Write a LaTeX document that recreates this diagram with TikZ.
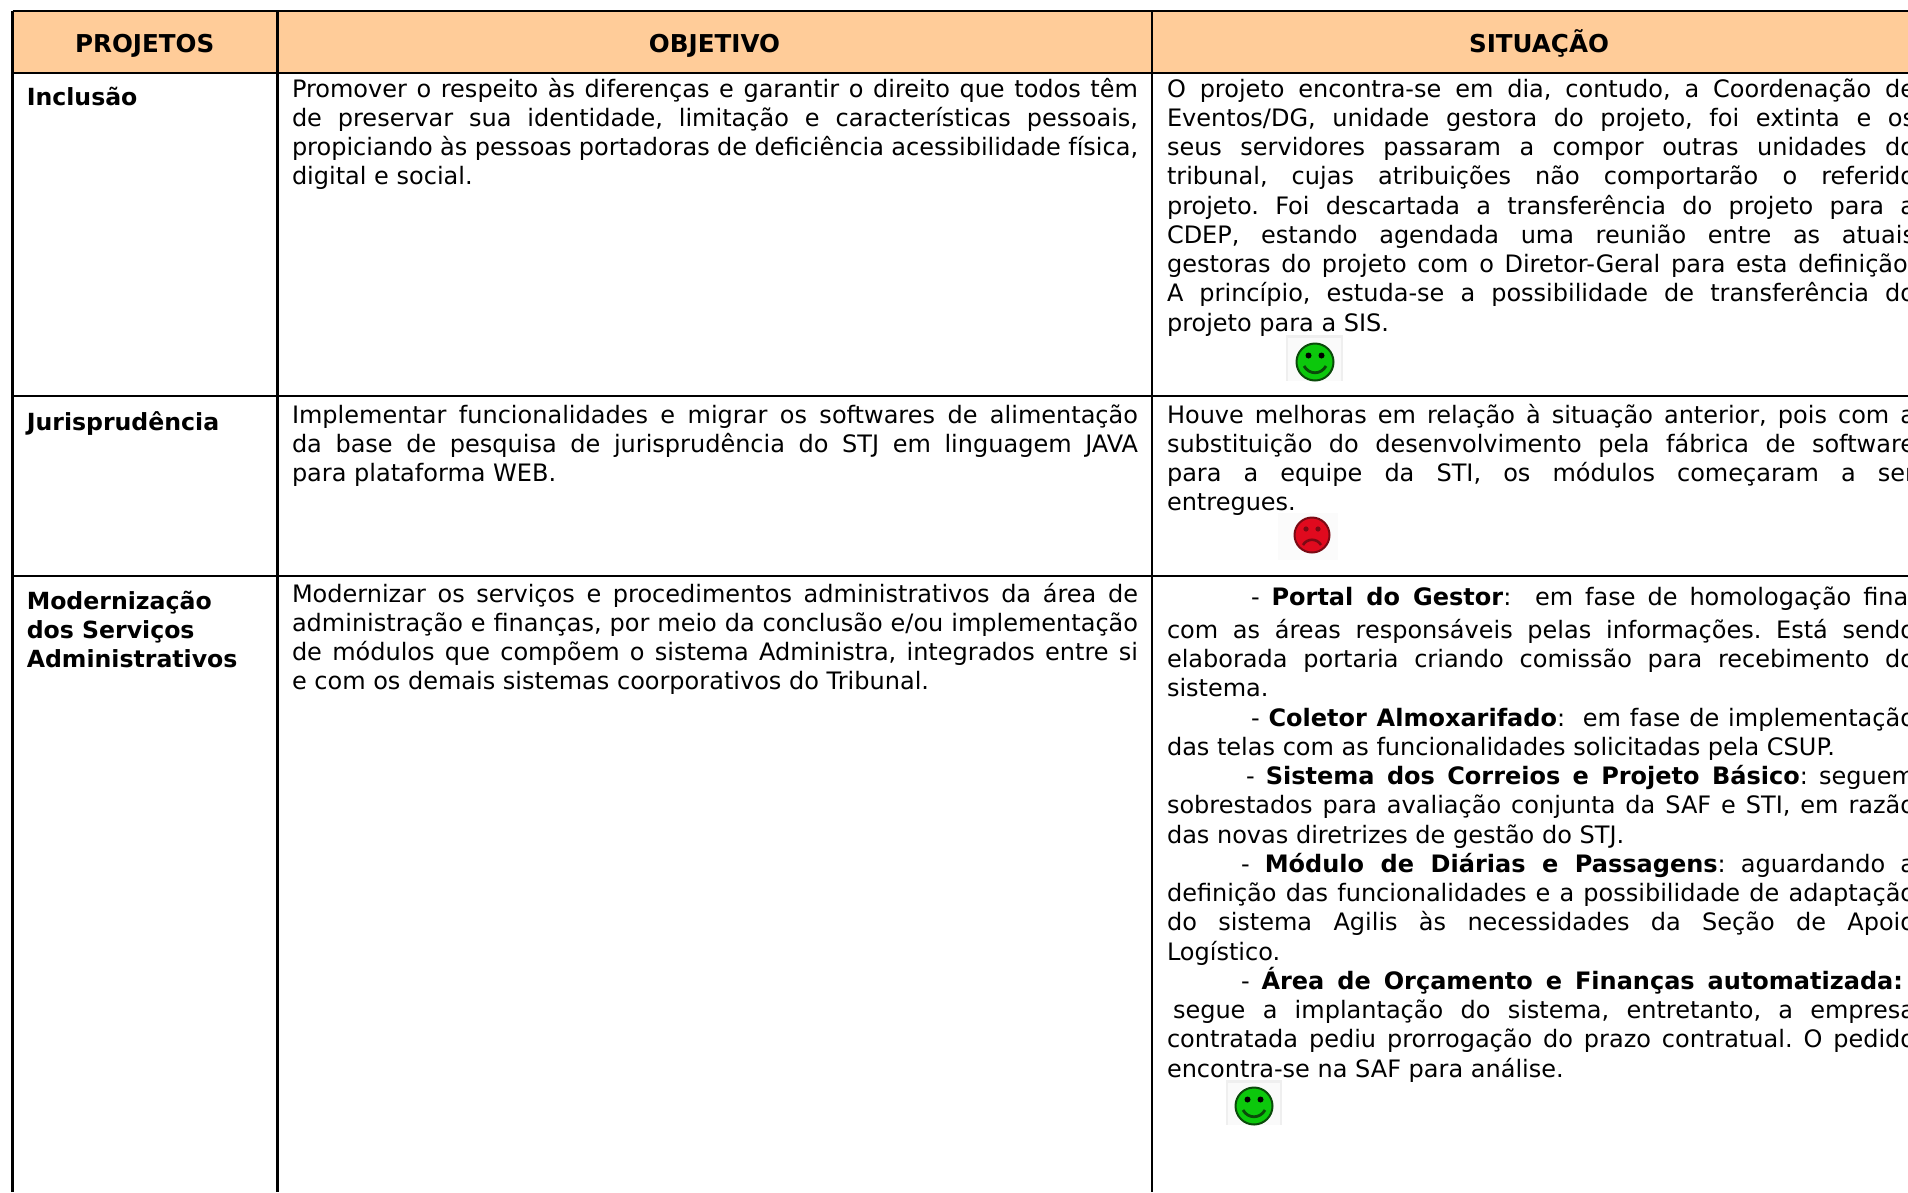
\documentclass[tikz,border=0pt]{standalone}
\usepackage{fontspec}
\setmainfont{DejaVu Sans}
\definecolor{headfill}{HTML}{FFCC99}
\definecolor{facegreen}{HTML}{0CC80C}
\definecolor{facegreenline}{HTML}{0A4A0A}
\definecolor{facered}{HTML}{E00A1E}
\definecolor{faceredline}{HTML}{7A0A14}
\definecolor{iconbg}{HTML}{EFEFEF}
\definecolor{iconbgin}{HTML}{FAFAFA}
\definecolor{iconbgred}{HTML}{FBFBFB}
\newcounter{ln}
\frenchspacing
\tikzset{
  textline/.style={anchor=base west,inner sep=0pt,outer sep=0pt,font=\fontsize{24}{29}\selectfont\frenchspacing,text=black},
  boldline/.style={anchor=base west,inner sep=0pt,outer sep=0pt,font=\fontsize{23.6}{29}\selectfont\bfseries,text=black},
  headtext/.style={anchor=base,inner sep=0pt,outer sep=0pt,font=\fontsize{24.6}{29}\selectfont\bfseries,text=black},
  rule/.style={line width=2.4pt,draw=black},
  facenode/.style={circle,inner sep=0pt,outer sep=0pt,minimum size=#1,line width=2pt}
}
% justified line: x, right edge, y, text
\newcommand{\JL}[4]{\stepcounter{ln}\pgfmathsetmacro{\jlw}{#2-#1}%
  \node[textline] (L\arabic{ln}) at (#1,#3) {\makebox[\jlw pt][s]{#4}};}
% natural line: x, y, text
\newcommand{\NL}[3]{\stepcounter{ln}\node[textline] (L\arabic{ln}) at (#1,#2) {#3};}
% bold first-column line: x, y, text
\newcommand{\BL}[3]{\stepcounter{ln}\node[boldline] (L\arabic{ln}) at (#1,#2) {#3};}
% happy face: name, box x0,y0,x1,y1, centre x,y
\newcommand{\happyface}[7]{%
  \fill[iconbg] (#2,#3) rectangle (#4,#5);
  \fill[iconbgin] (#2+2,#3+3) rectangle (#4-2,#5);
  \begin{scope}
  \clip (#2,#3) rectangle (#4,#5);
  \node[facenode=37pt,fill=facegreen,draw=facegreenline] (#1) at (#6,#7) {};
  \fill[black] (#6-6.5,#7-6.5) circle (3);
  \fill[black] (#6+6.5,#7-6.5) circle (3);
  \draw[facegreenline,line width=2.8pt] (#6-11,#7+4) .. controls (#6-6,#7+13) and (#6+6,#7+13) .. (#6+11,#7+4);
  \end{scope}}
\newcommand{\sadface}[7]{%
  \fill[iconbgred] (#2,#3) rectangle (#4,#5);
  \node[facenode=35pt,fill=facered,draw=faceredline] (#1) at (#6,#7) {};
  \fill[faceredline] (#6-6,#7-6) circle (2.6);
  \fill[faceredline] (#6+6,#7-6) circle (2.6);
  \draw[faceredline,line width=2.6pt] (#6-9,#7+10) .. controls (#6-5,#7+3) and (#6+5,#7+3) .. (#6+9,#7+10);}
\begin{document}
\begin{tikzpicture}[x=1pt,y=-1pt]
\useasboundingbox (0,0) rectangle (1908,1192);
\clip (0,0) rectangle (1908,1192);
\fill[white] (0,0) rectangle (1908,1192);
% table frame
\coordinate (tl) at (12.5,11);
\coordinate (tr) at (1908,11);
\coordinate (hl) at (12.5,73);
\coordinate (hr) at (1908,73);
\coordinate (r1l) at (12.5,396);
\coordinate (r1r) at (1908,396);
\coordinate (r2l) at (12.5,576);
\coordinate (r2r) at (1908,576);
\coordinate (bl) at (12.5,1192);
\coordinate (c1t) at (277.5,11);
\coordinate (c1b) at (277.5,1192);
\coordinate (c2t) at (1152,11);
\coordinate (c2b) at (1152,1192);
\fill[headfill] (tl) rectangle (hr);
\draw[rule] (tl) -- (tr);
\draw[rule] (hl) -- (hr);
\draw[rule] (r1l) -- (r1r);
\draw[rule] (r2l) -- (r2r);
\draw[rule] (tl) -- (bl);
\draw[rule] (c1t) -- (c1b);
\draw[rule] (c2t) -- (c2b);
\begin{scope}[yshift=-2pt]
% header
\node[headtext] (h1) at (144.7,50) {PROJETOS};
\node[headtext] (h2) at (714.5,50) {OBJETIVO};
\node[headtext] (h3) at (1539,50) {SITUAÇÃO};
% first column
\BL{26.8}{103.4}{Inclusão}
\BL{26.8}{428}{Jurisprudência}
\BL{26.8}{607}{Modernização}
\BL{26.8}{636.3}{dos Serviços}
\BL{26.8}{665.5}{Administrativos}
% second column
\JL{292}{1138}{95}{Promover o respeito às diferenças e garantir o direito que todos têm}
\JL{292}{1138}{124.25}{de preservar sua identidade, limitação e características pessoais,}
\JL{292}{1138}{153.5}{propiciando às pessoas portadoras de deficiência acessibilidade física,}
\NL{292}{182.75}{digital e social.}
\JL{292}{1138}{421}{Implementar funcionalidades e migrar os softwares de alimentação}
\JL{292}{1138}{450.25}{da base de pesquisa de jurisprudência do STJ em linguagem JAVA}
\NL{292}{479.5}{para plataforma WEB.}
\JL{292}{1138}{600}{Modernizar os serviços e procedimentos administrativos da área de}
\JL{292}{1138}{629.25}{administração e finanças, por meio da conclusão e/ou implementação}
\JL{292}{1138}{658.5}{de módulos que compõem o sistema Administra, integrados entre si}
\NL{292}{687.75}{e com os demais sistemas coorporativos do Tribunal.}
% third column, row 1
\JL{1167}{1915}{95}{O projeto encontra-se em dia, contudo, a Coordenação de}
\JL{1167}{1915}{124.25}{Eventos/DG, unidade gestora do projeto, foi extinta e os}
\JL{1167}{1915}{153.5}{seus servidores passaram a compor outras unidades do}
\JL{1167}{1915}{182.75}{tribunal, cujas atribuições não comportarão o referido}
\JL{1167}{1915}{212}{projeto. Foi descartada a transferência do projeto para a}
\JL{1167}{1915}{241.25}{CDEP, estando agendada uma reunião entre as atuais}
\JL{1167}{1915}{270.5}{gestoras do projeto com o Diretor-Geral para esta definição.}
\JL{1167}{1915}{299.75}{A princípio, estuda-se a possibilidade de transferência do}
\NL{1167}{329}{projeto para a SIS.}
% third column, row 2
\JL{1167}{1915}{421}{Houve melhoras em relação à situação anterior, pois com a}
\JL{1167}{1915}{450.25}{substituição do desenvolvimento pela fábrica de software}
\JL{1167}{1915}{479.5}{para a equipe da STI, os módulos começaram a ser}
\NL{1167}{508.75}{entregues.}
% third column, row 3
\JL{1251}{1915}{603.5}{- \textbf{Portal do Gestor}:\ \ em fase de homologação final}
\JL{1167}{1915}{636.4}{com as áreas responsáveis pelas informações. Está sendo}
\JL{1167}{1915}{665.6}{elaborada portaria criando comissão para recebimento do}
\NL{1167}{694.9}{sistema.}
\JL{1251}{1915}{724.1}{- \textbf{Coletor Almoxarifado}:\ \ em fase de implementação}
\NL{1167}{753.4}{das telas com as funcionalidades solicitadas pela CSUP.}
\JL{1246}{1915}{782.6}{- \textbf{Sistema dos Correios e Projeto Básico}: seguem}
\JL{1167}{1915}{811.9}{sobrestados para avaliação conjunta da SAF e STI, em razão}
\NL{1167}{841.1}{das novas diretrizes de gestão do STJ.}
\JL{1241}{1915}{870.4}{- \textbf{Módulo de Diárias e Passagens}: aguardando a}
\JL{1167}{1915}{899.6}{definição das funcionalidades e a possibilidade de adaptação}
\JL{1167}{1915}{928.9}{do sistema Agilis às necessidades da Seção de Apoio}
\NL{1167}{958.1}{Logístico.}
\JL{1241}{1903}{987.4}{- \textbf{Área de Orçamento e Finanças automatizada:}}
\JL{1173}{1915}{1016.6}{segue a implantação do sistema, entretanto, a empresa}
\JL{1167}{1915}{1045.9}{contratada pediu prorrogação do prazo contratual. O pedido}
\NL{1167}{1075.1}{encontra-se na SAF para análise.}
\end{scope}
% icons
\happyface{face1}{1286}{335}{1343}{381}{1315}{362}
\sadface{face2}{1278}{513}{1338}{560}{1312}{535}
\happyface{face3}{1226}{1080}{1282}{1125}{1254}{1106}
\end{tikzpicture}
\end{document}
